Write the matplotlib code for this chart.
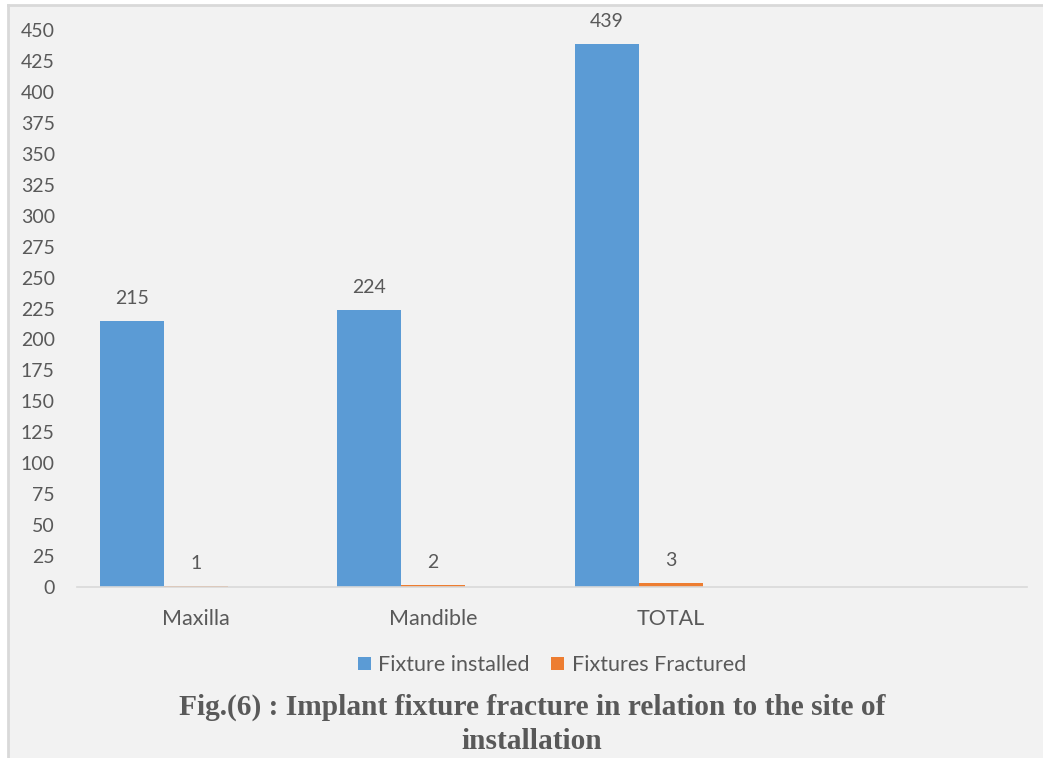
import matplotlib
matplotlib.use("Agg")
import matplotlib.pyplot as plt
import numpy as np
from matplotlib.patches import Rectangle
from matplotlib.lines import Line2D

categories = ["Maxilla", "Mandible", "TOTAL", ""]
installed = [215, 224, 439, None]
fractured = [1, 2, 3, None]
series_names = ["Fixture installed", "Fixtures Fractured"]
yticks = list(range(0, 451, 25))
caption = "Fig.(6) : Implant fixture fracture in relation to the site of\ninstallation"

W, H = 1043, 758
fig = plt.figure(figsize=(W / 100, H / 100), dpi=100, facecolor="white")

# background panel with border on left/top
fig.patches.append(Rectangle((9 / W, 0), 1 - 9 / W, 1 - 6 / H, transform=fig.transFigure,
                             facecolor="#f2f2f2", edgecolor="none", zorder=-10))
fig.lines.append(Line2D([8 / W, 8 / W], [0, 1 - 5 / H], transform=fig.transFigure,
                        color="#d9d9d9", lw=2, zorder=-9))
fig.lines.append(Line2D([8 / W, 1], [1 - 5 / H, 1 - 5 / H], transform=fig.transFigure,
                        color="#d9d9d9", lw=2, zorder=-9))

left, right = 77 / W, 1027 / W
bottom, top = (H - 587) / H, (H - 30) / H
ax = fig.add_axes([left, bottom, right - left, top - bottom])
ax.set_facecolor("none")

font = "Lato"
fs = 14
tc = "#595959"
w = 64 / 237.5
x = np.arange(len(categories))
vals_i = [v for v in installed if v is not None]
vals_f = [v for v in fractured if v is not None]
xi = x[:len(vals_i)]
# three bar slots per category (third slot empty, as in the source chart)
b1 = ax.bar(xi - w, vals_i, width=w, color="#5b9bd5", label=series_names[0], zorder=2)
b2 = ax.bar(xi, vals_f, width=w, color="#ed7d31", label=series_names[1], zorder=2)

for bars, vals in ((b1, vals_i), (b2, vals_f)):
    for r, v in zip(bars, vals):
        ax.annotate(str(v), (r.get_x() + r.get_width() / 2, v), xytext=(0, 10),
                    textcoords="offset points", ha="center", va="bottom",
                    fontsize=fs, color=tc, family=font)

ax.set_xlim(-0.5, 3.5)
ax.set_ylim(0, 450)
ax.set_yticks(yticks)
ax.set_yticklabels([str(t) for t in yticks], fontsize=fs, color=tc, family=font)
ax.set_xticks(x)
ax.set_xticklabels(categories, fontsize=15.5, color=tc, family=font)
ax.tick_params(axis="y", length=0, pad=16)
ax.tick_params(axis="x", length=0, pad=15.5)
for s in ("left", "right", "top"):
    ax.spines[s].set_visible(False)
ax.spines["bottom"].set_color("#d9d9d9")
ax.spines["bottom"].set_linewidth(1.2)

leg = fig.legend(handles=[b1, b2], loc="center", bbox_to_anchor=(552 / W, 1 - 665 / H),
                 ncol=2, frameon=False, prop={"family": font, "size": 15.5},
                 handlelength=0.6, handleheight=0.6, handletextpad=0.35, columnspacing=1.0)
for t in leg.get_texts():
    t.set_color(tc)

fig.text(532 / W, 1 - 724 / H, caption, ha="center", va="center", family="Liberation Serif",
         fontweight="bold", fontsize=21.2, color=tc, linespacing=1.34)

fig.savefig("out.png", dpi=100, facecolor="white")
